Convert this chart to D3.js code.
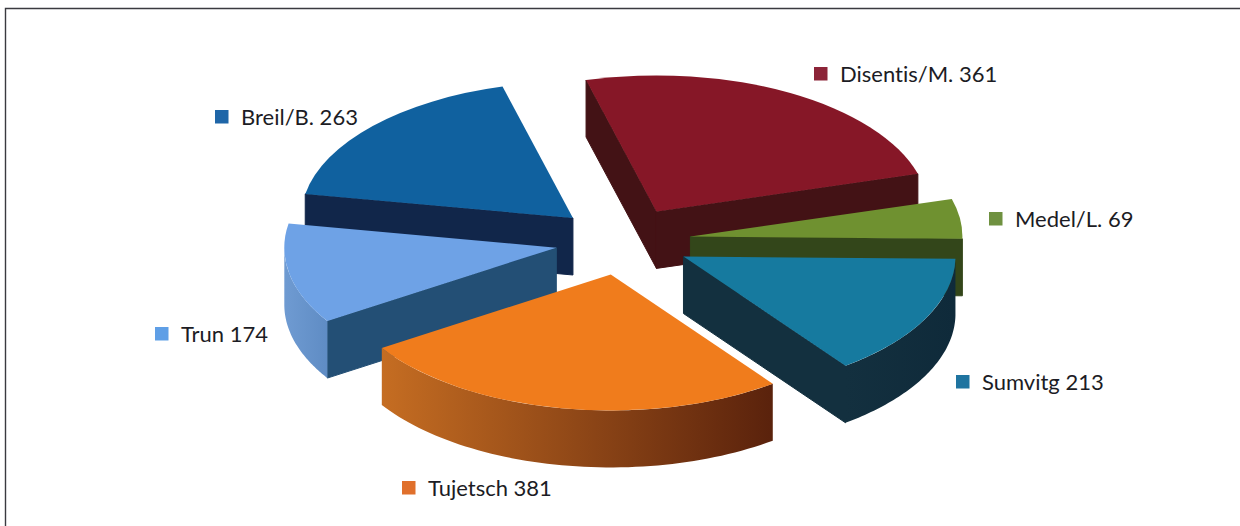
<!DOCTYPE html>
<html>
<head>
<meta charset="utf-8">
<script src="https://cdn.jsdelivr.net/npm/d3@7"></script>
<style>
  html, body { margin: 0; padding: 0; background: #fff; overflow: hidden; }
  text { font-family: Lato, sans-serif; font-size: 22px; font-variant-ligatures: none; fill: #1c1c24; }
</style>
</head>
<body>
<div id="chart"></div>
<script>
var names = ["Disentis/M.", "Medel/L.", "Sumvitg", "Tujetsch", "Trun", "Breil/B."];
var values = [361, 69, 213, 381, 174, 263];

// colours per slice
var topColors = ["#861727", "#6f9130", "#167a9f", "#f07c1c", "#6ea2e6", "#10619f"];
var wallColors = ["#431215", "#33461a", "#13303f", "#7a3410", "#234f75", "#11264a"];
var rimLeft = ["#431215", "#33461a", "#13303f", "#c56d22", "#6f9bd2", "#11264a"];
var rimRight = ["#431215", "#33461a", "#0f2a3a", "#5a220c", "#5f8cc4", "#11264a"];
var legendColors = ["#8c2438", "#6f9140", "#1f74a0", "#e0702c", "#5f9fe6", "#1f66a8"];

// back to front
var drawOrder = [0, 5, 1, 4, 2, 3];

var width = 1240, height = 526;
var cx = 623, cy = 241, rx = 272, squash = 0.5, depth = 57, explode = 68;
var start = -15 * Math.PI / 180;

var legendX = [814, 989, 956, 402, 155, 215];
var legendY = [67, 212, 375, 481, 327, 110];

var svg = d3.select("#chart").append("svg")
    .attr("width", width)
    .attr("height", height);

// only the left and top edges of the frame survive in the scan
svg.append("path")
    .attr("d", "M5.5," + height + "V8.5H" + width)
    .attr("fill", "none")
    .attr("stroke", "#3a3a40")
    .attr("stroke-width", 1.4);

var pie = d3.pie().sort(null).startAngle(start).endAngle(start + 2 * Math.PI);
var slices = pie(values);

var arc = d3.arc().innerRadius(0).outerRadius(rx);
var line = d3.line();
var defs = svg.append("defs");

// pie angle + radius + height -> screen
function project(s, a, r, z) {
  var mid = (s.startAngle + s.endAngle) / 2;
  return [
    cx + explode * Math.sin(mid) + r * Math.sin(a),
    cy - explode * squash * Math.cos(mid) - r * squash * Math.cos(a) + z
  ];
}

function radialWall(s, a) {
  return line([project(s, a, 0, 0), project(s, a, rx, 0), project(s, a, rx, depth), project(s, a, 0, depth)]) + "Z";
}

drawOrder.forEach(function(i) {
  var s = slices[i];
  var g = svg.append("g");

  // flat sides, only when they face the viewer
  if (Math.cos(s.startAngle - Math.PI / 2) < 0) {
    g.append("path").attr("d", radialWall(s, s.startAngle)).attr("fill", wallColors[i]).attr("stroke", wallColors[i]);
  }
  if (Math.cos(s.endAngle + Math.PI / 2) < 0) {
    g.append("path").attr("d", radialWall(s, s.endAngle)).attr("fill", wallColors[i]).attr("stroke", wallColors[i]);
  }

  // curved outer side, front half of the ellipse only
  var a0 = Math.max(s.startAngle, Math.PI / 2), a1 = Math.min(s.endAngle, 3 * Math.PI / 2);
  if (a1 > a0) {
    var steps = d3.range(0, 61).map(function(k) { return a0 + (a1 - a0) * k / 60; });
    var upper = steps.map(function(a) { return project(s, a, rx, 0); });
    var lower = steps.slice().reverse().map(function(a) { return project(s, a, rx, depth); });
    var xs = d3.extent(upper, function(p) { return p[0]; });
    var grad = defs.append("linearGradient")
        .attr("id", "rim" + i)
        .attr("gradientUnits", "userSpaceOnUse")
        .attr("x1", xs[0]).attr("x2", xs[1])
        .attr("y1", 0).attr("y2", 0);
    grad.append("stop").attr("offset", 0).attr("stop-color", rimLeft[i]);
    grad.append("stop").attr("offset", 1).attr("stop-color", rimRight[i]);
    g.append("path")
        .attr("d", line(upper.concat(lower)) + "Z")
        .attr("fill", "url(#rim" + i + ")");
  }

  // top face
  var mid = (s.startAngle + s.endAngle) / 2;
  g.append("path")
      .attr("d", arc(s))
      .attr("transform", "translate(" + (cx + explode * Math.sin(mid)) + "," + (cy - explode * squash * Math.cos(mid)) + ") scale(1," + squash + ")")
      .attr("fill", topColors[i]);
});

var legend = svg.selectAll(".legend")
    .data(names)
    .enter().append("g")
    .attr("class", "legend")
    .attr("transform", function(d, i) { return "translate(" + legendX[i] + "," + legendY[i] + ")"; });

legend.append("rect")
    .attr("width", 13.5)
    .attr("height", 13.5)
    .attr("fill", function(d, i) { return legendColors[i]; });

legend.append("text")
    .attr("x", 26)
    .attr("y", 15)
    .text(function(d, i) { return d + " " + values[i]; });
</script>
</body>
</html>
